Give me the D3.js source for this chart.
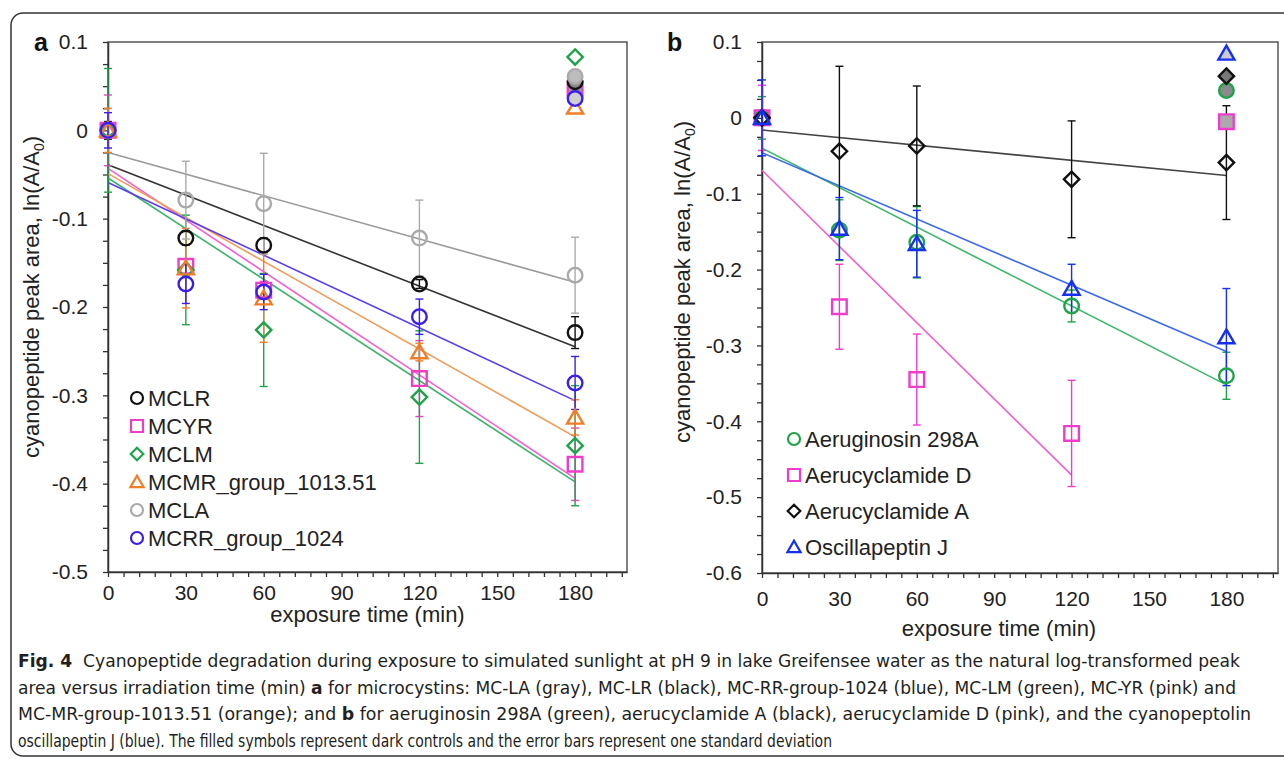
<!DOCTYPE html>
<html>
<head>
<meta charset="utf-8">
<script src="https://cdn.jsdelivr.net/npm/d3@7"></script>
<style>
  body { margin: 0; background: #fff; }
  svg { display: block; font-family: 'Liberation Sans', Arial, sans-serif; }
</style>
</head>
<body>
<div id="chart"></div>
<script>
// ---- data ----
const TIMES = [0, 30, 60, 120, 180];
const TIMES_D = [0, 30, 60, 120];
const X_MAJOR = [0, 30, 60, 90, 120, 150, 180];

// panel a: microcystins
const namesA = ['MCLR', 'MCYR', 'MCLM', 'MCMR_group_1013.51', 'MCLA', 'MCRR_group_1024'];
const mclr     = [0, -0.122, -0.130, -0.174, -0.229];
const mclrErr  = [0.010, 0.008, 0.008, 0.005, 0.018];
const mcyr     = [0, -0.154, -0.181, -0.281, -0.378];
const mcyrErr  = [0.040, 0.008, 0.010, 0.043, 0.041];
const mclm     = [0, -0.158, -0.226, -0.302, -0.357];
const mclmErr  = [0.070, 0.062, 0.064, 0.075, 0.068];
const mcmr     = [0, -0.156, -0.190, -0.251, -0.325];
const mcmrErr  = [0.025, 0.045, 0.050, 0.010, 0.020];
const mcla     = [0, -0.079, -0.083, -0.122, -0.164];
const mclaErr  = [0.005, 0.044, 0.057, 0.043, 0.043];
const mcrr     = [0, -0.174, -0.183, -0.211, -0.286];
const mcrrErr  = [0.020, 0.022, 0.020, 0.020, 0.030];
// dark controls at 180 min
const darkA    = [0.055, 0.047, 0.083, 0.026, 0.061, 0.036];
// regression lines, value at 0 min and at 180 min
const fitA0    = [-0.039, -0.043, -0.054, -0.049, -0.025, -0.059];
const fitA180  = [-0.245, -0.394, -0.398, -0.347, -0.172, -0.306];

// panel b: other cyanopeptides
const namesB = ['Aeruginosin 298A', 'Aerucyclamide D', 'Aerucyclamide A', 'Oscillapeptin J'];
const aer298     = [0, -0.148, -0.164, -0.248, -0.340];
const aer298Err  = [0.028, 0.040, 0.047, 0.021, 0.031];
const aerD       = [0, -0.249, -0.345, -0.416];
const aerDErr    = [0.043, 0.056, 0.060, 0.070];
const aerA       = [0, -0.044, -0.037, -0.081, -0.059];
const aerAErr    = [0.010, 0.112, 0.079, 0.077, 0.075];
const oscJ       = [0, -0.146, -0.166, -0.225, -0.289];
const oscJErr    = [0.050, 0.041, 0.044, 0.032, 0.064];
const darkB      = [0.036, -0.005, 0.055, 0.085];
const fitB0      = [-0.040, -0.069, -0.016, -0.046];
const fitBEnd    = [-0.352, -0.471, -0.076, -0.308];
const fitBEndT   = [180, 120, 180, 180];

const captionLines = [
  [['Fig. 4', true], ['  Cyanopeptide degradation during exposure to simulated sunlight at pH 9 in lake Greifensee water as the natural log-transformed peak', false]],
  [['area versus irradiation time (min) ', false], ['a', true], [' for microcystins: MC-LA (gray), MC-LR (black), MC-RR-group-1024 (blue), MC-LM (green), MC-YR (pink) and', false]],
  [['MC-MR-group-1013.51 (orange); and ', false], ['b', true], [' for aeruginosin 298A (green), aerucyclamide A (black), aerucyclamide D (pink), and the cyanopeptolin', false]],
  [['oscillapeptin J (blue). The filled symbols represent dark controls and the error bars represent one standard deviation', false]]
];
const captionEnds = [1240, 1236, 1251, 832];

// ---- chart ----
const W = 1284, H = 759;
const svg = d3.select('#chart').append('svg').attr('width', W).attr('height', H);

// figure frame
svg.append('path')
  .attr('d', 'M1290,13 H23 A12,12 0 0 0 11,25 V744 A12,12 0 0 0 23,756 H1290')
  .attr('fill', 'none').attr('stroke', '#333').attr('stroke-width', 1.5);

const marker = (g, shape, cx, cy, r, stroke, fill, sw) => {
  if (shape === 'circle') {
    return g.append('circle').attr('cx', cx).attr('cy', cy).attr('r', r)
      .attr('fill', fill).attr('stroke', stroke).attr('stroke-width', sw);
  }
  let d;
  if (shape === 'square') d = `M${cx - r},${cy - r}h${2 * r}v${2 * r}h${-2 * r}Z`;
  if (shape === 'diamond') { const q = r * 1.05; d = `M${cx},${cy - q}L${cx + q},${cy}L${cx},${cy + q}L${cx - q},${cy}Z`; }
  if (shape === 'triangle') d = `M${cx},${cy - r * 1.05}L${cx + r * 1.1},${cy + r * 0.85}L${cx - r * 1.1},${cy + r * 0.85}Z`;
  return g.append('path').attr('d', d).attr('fill', fill).attr('stroke', stroke)
    .attr('stroke-width', sw).attr('stroke-linejoin', 'miter');
};

const drawPanel = (p) => {
  const g = svg.append('g');
  const x = d3.scaleLinear().domain([0, 200]).range([p.left, p.right]);
  const y = d3.scaleLinear().domain(p.yDomain).range([p.bottom, p.top]);

  g.append('rect')
    .attr('x', p.left).attr('y', p.top)
    .attr('width', p.right - p.left).attr('height', p.bottom - p.top)
    .attr('fill', 'none').attr('stroke', '#555').attr('stroke-width', 1.5);

  const yTicks = d3.range(Math.round(p.yDomain[0] / 0.025), Math.round(p.yDomain[1] / 0.025) + 1)
    .map(i => +(i * 0.025).toFixed(3));
  const isMajor = v => Math.abs(v * 10 - Math.round(v * 10)) < 1e-6;
  const yAxis = d3.axisLeft(y).tickValues(yTicks).tickSize(5).tickSizeOuter(0).tickPadding(15)
    .tickFormat(v => isMajor(v) ? String(+v.toFixed(1)) : '');
  const xAxis = d3.axisBottom(x).tickValues(d3.range(0, 199, 6)).tickSize(5).tickSizeOuter(0)
    .tickPadding(p.xPad)
    .tickFormat(t => X_MAJOR.includes(t) ? t : '');

  [g.append('g').attr('transform', `translate(${p.left},0)`).call(yAxis),
   g.append('g').attr('transform', `translate(0,${p.bottom})`).call(xAxis)].forEach(a => {
    a.select('.domain').attr('stroke', '#333').attr('stroke-width', 1.5);
    a.selectAll('.tick line').attr('stroke', '#333').attr('stroke-width', 1.3);
    a.selectAll('.tick text').attr('font-size', 21).attr('fill', '#222')
      .attr('font-family', "'Liberation Sans', Arial, sans-serif");
  });

  // axis titles
  const yt = g.append('text')
    .attr('transform', `translate(${p.yTitleX},${p.yTitleY}) rotate(-90)`)
    .attr('text-anchor', 'middle').attr('font-size', 22).attr('fill', '#222');
  yt.append('tspan').text('cyanopeptide peak area, ln(A/A');
  yt.append('tspan').attr('font-size', 14).attr('dy', 5).text('0');
  yt.append('tspan').attr('dy', -5).text(')');

  g.append('text').attr('x', (p.left + p.right) / 2 + p.xTitleDx).attr('y', p.xTitleY)
    .attr('text-anchor', 'middle').attr('font-size', 22).attr('fill', '#222')
    .text('exposure time (min)');

  g.append('text').attr('x', p.labelX).attr('y', 51)
    .attr('font-size', 25).attr('font-weight', 'bold').attr('fill', '#111').text(p.label);

  // regression lines
  g.selectAll('line.fit').data(p.series).enter().append('line').attr('class', 'fit')
    .attr('x1', x(0)).attr('y1', d => y(d.fit0))
    .attr('x2', d => x(d.fitT)).attr('y2', d => y(d.fitEnd))
    .attr('stroke', d => d.line).attr('stroke-width', 1.6);

  // error bars
  p.series.forEach(s => {
    const eb = g.append('g');
    s.vals.forEach((v, i) => {
      const cx = x(s.times[i]), e = s.err[i];
      eb.append('line').attr('x1', cx).attr('x2', cx).attr('y1', y(v - e)).attr('y2', y(v + e))
        .attr('stroke', s.color).attr('stroke-width', 1.4);
      [v - e, v + e].forEach(w => eb.append('line')
        .attr('x1', cx - 4).attr('x2', cx + 4).attr('y1', y(w)).attr('y2', y(w))
        .attr('stroke', s.color).attr('stroke-width', 1.4));
    });
  });

  // markers
  p.series.forEach(s => {
    s.vals.forEach((v, i) => marker(g, s.shape, x(s.times[i]), y(v), 7.3, s.color, 'none', 2.4));
  });

  // dark controls
  p.darkOrder.forEach(k => {
    const s = p.series[k];
    marker(g, s.shape, x(180), y(s.dark), 7.3, s.color, s.darkFill, 2.4);
  });

  // legend
  p.series.forEach((s, i) => {
    const cy = p.legendY + i * p.legendDy;
    marker(g, s.shape, p.legendX, cy, 6, s.color, 'none', 2.2);
    g.append('text').attr('x', p.legendX + 11).attr('y', cy + 8)
      .attr('font-size', 22).attr('fill', '#222').text(s.name);
  });
};

const seriesA = [
  { vals: mclr, err: mclrErr, color: '#111111', line: '#333333', shape: 'circle',   darkFill: '#8a8a8a' },
  { vals: mcyr, err: mcyrErr, color: '#ee3ec6', line: '#f25fd2', shape: 'square',   darkFill: '#999999' },
  { vals: mclm, err: mclmErr, color: '#1fa34a', line: '#3cb46c', shape: 'diamond',  darkFill: '#ffffff' },
  { vals: mcmr, err: mcmrErr, color: '#f07d28', line: '#f39a55', shape: 'triangle', darkFill: '#ffffff' },
  { vals: mcla, err: mclaErr, color: '#aaaaaa', line: '#9a9a9a', shape: 'circle',   darkFill: '#bdbdbd' },
  { vals: mcrr, err: mcrrErr, color: '#3b1ee8', line: '#5a3ef0', shape: 'circle',   darkFill: '#cfcfcf' }
].map((s, i) => Object.assign(s, {
  name: namesA[i], times: TIMES, dark: darkA[i], fit0: fitA0[i], fitEnd: fitA180[i], fitT: 180
}));

const seriesB = [
  { vals: aer298, err: aer298Err, times: TIMES,   color: '#1fa34a', line: '#3cb86a', shape: 'circle',   darkFill: '#8a8a8a' },
  { vals: aerD,   err: aerDErr,   times: TIMES_D, color: '#f03ccc', line: '#f060d0', shape: 'square',   darkFill: '#aaaaaa' },
  { vals: aerA,   err: aerAErr,   times: TIMES,   color: '#111111', line: '#444444', shape: 'diamond',  darkFill: '#777777' },
  { vals: oscJ,   err: oscJErr,   times: TIMES,   color: '#1530f0', line: '#3a6ae8', shape: 'triangle', darkFill: '#cccccc' }
].map((s, i) => Object.assign(s, {
  name: namesB[i], dark: darkB[i], fit0: fitB0[i], fitEnd: fitBEnd[i], fitT: fitBEndT[i]
}));

drawPanel({
  label: 'a', labelX: 34, left: 108, right: 627, top: 42, bottom: 572, yDomain: [-0.5, 0.1],
  yTitleX: 39, yTitleY: 297, xTitleY: 622, xTitleDx: 0, xPad: 8,
  series: seriesA, darkOrder: [3, 1, 0, 4, 2, 5],
  legendX: 137, legendY: 398, legendDy: 28
});

drawPanel({
  label: 'b', labelX: 667, left: 762, right: 1278, top: 42, bottom: 573, yDomain: [-0.6, 0.1],
  yTitleX: 690, yTitleY: 282, xTitleY: 636, xTitleDx: -21, xPad: 13,
  series: seriesB, darkOrder: [1, 0, 2, 3],
  legendX: 794, legendY: 439, legendDy: 36
});

// caption
captionLines.forEach((parts, i) => {
  const t = svg.append('text').attr('x', 18).attr('y', 667 + i * 26.7)
    .attr('font-size', 18).attr('fill', '#231f20')
    .attr('font-family', "'Liberation Sans Narrow', 'DejaVu Sans Condensed', 'Open Sans', sans-serif")
    .attr('font-stretch', 'condensed')
    .attr('textLength', captionEnds[i] - 18).attr('lengthAdjust', 'spacingAndGlyphs');
  parts.forEach(([txt, bold]) => t.append('tspan')
    .attr('font-weight', bold ? 'bold' : 'normal')
    .attr('xml:space', 'preserve').style('white-space', 'pre').text(txt));
});
</script>
</body>
</html>
